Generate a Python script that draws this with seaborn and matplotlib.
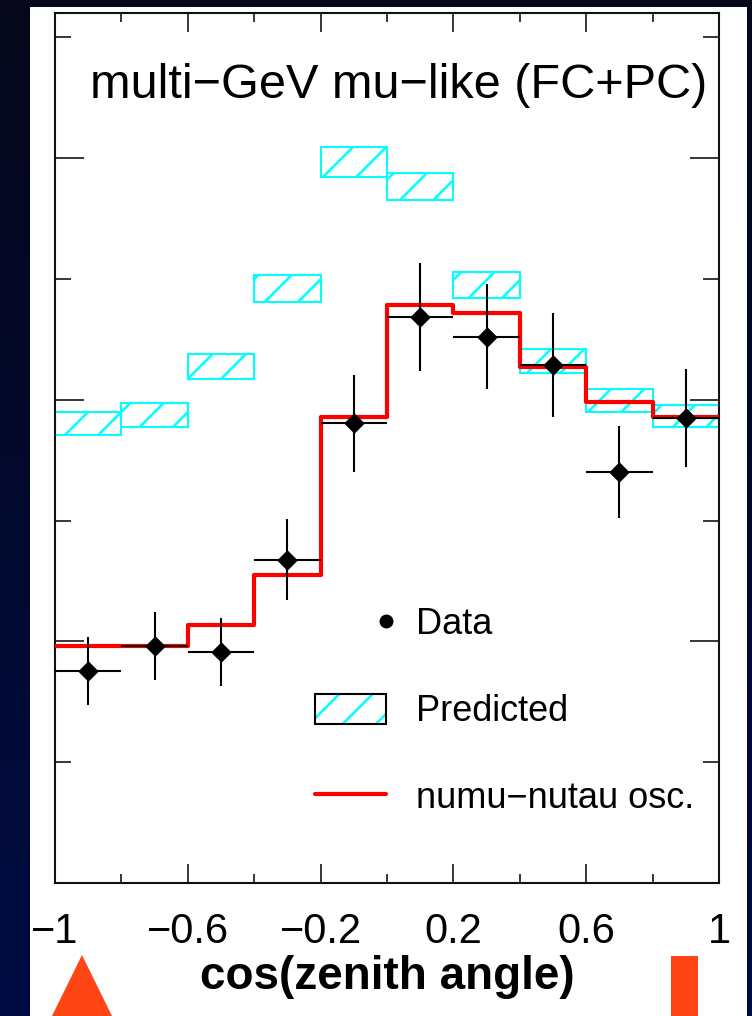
import numpy as np
import pandas as pd
import matplotlib.pyplot as plt
import seaborn as sns
from matplotlib.patches import Rectangle, Polygon, Patch
from matplotlib.lines import Line2D
from matplotlib.legend_handler import HandlerLine2D
from matplotlib.colors import LinearSegmentedColormap

# zenith angle binning
bin_edges = [-1.0, -0.8, -0.6, -0.4, -0.2, 0.0, 0.2, 0.4, 0.6, 0.8, 1.0]
bin_centers = [-0.9, -0.7, -0.5, -0.3, -0.1, 0.1, 0.3, 0.5, 0.7, 0.9]
x_ticks = [-1.0, -0.6, -0.2, 0.2, 0.6, 1.0]
x_ticklabels = ["\u22121", "\u22120.6", "\u22120.2", "0.2", "0.6", "1"]

# predicted (no oscillation) band, lower / upper edge of each box
pred_low = [74.1, 75.5, 83.4, 96.1, 116.8, 113.0, 96.8, 84.4, 77.9, 75.5]
pred_high = [77.9, 79.4, 87.5, 100.6, 121.8, 117.5, 101.1, 88.4, 81.7, 79.1]

# numu -> nutau oscillation expectation
osc = [39.2, 39.2, 42.7, 51.0, 77.1, 95.6, 94.3, 85.4, 79.6, 77.1]

# observed events
data_counts = [35.1, 39.2, 38.2, 53.5, 76.1, 93.7, 90.4, 85.7, 68.0, 76.9]
data_err = [5.6, 5.6, 5.6, 6.7, 8.0, 9.0, 8.7, 8.6, 7.6, 8.1]

sns.set_style("ticks")
plt.rcParams['font.family'] = ['Liberation Sans', 'DejaVu Sans']
plt.rcParams['hatch.linewidth'] = 1.8
plt.rcParams['text.color'] = 'black'
plt.rcParams['axes.labelcolor'] = 'black'
plt.rcParams['xtick.color'] = 'black'
plt.rcParams['ytick.color'] = 'black'

df = pd.DataFrame({"cos_zenith": bin_centers, "events": data_counts})

fig = plt.figure(figsize=(7.52, 10.16), dpi=100)
fig.patch.set_facecolor('#05061a')

# slide background: dark gradient, white panel, orange decorations
bg = fig.add_axes([0, 0, 1, 1], zorder=-10)
bg_cmap = LinearSegmentedColormap.from_list("slide", ['#06071a', '#000b42'])
bg.imshow(np.linspace(0, 1, 256).reshape(-1, 1), cmap=bg_cmap, aspect='auto',
          extent=[0, 1, 0, 1], origin='upper')
bg.add_patch(Rectangle((30 / 752, 0), 717 / 752, 1009 / 1016,
                       facecolor='white', edgecolor='none'))
bg.add_patch(Polygon([(52 / 752, 0), (112 / 752, 0), (82 / 752, 61 / 1016)],
                     closed=True, facecolor='#ff4516', edgecolor='none'))
bg.add_patch(Rectangle((671 / 752, 0), 27 / 752, 60 / 1016,
                       facecolor='#ff4516', edgecolor='none'))
bg.set_xlim(0, 1)
bg.set_ylim(0, 1)
bg.axis('off')

ax = fig.add_axes([55 / 752, 133 / 1016, 664 / 752, 870 / 1016])
ax.set_facecolor('white')

# predicted boxes
ax.bar(bin_centers, np.subtract(pred_high, pred_low), bottom=pred_low, width=0.2,
       facecolor='none', edgecolor='#00ffff', hatch='/', linewidth=1.5, zorder=2)

# oscillation histogram
sns.lineplot(x=bin_edges, y=osc + [osc[-1]], drawstyle='steps-post', color='red',
             linewidth=3, ax=ax, zorder=3)

# data with error bars
ax.errorbar(bin_centers, data_counts, xerr=0.1, yerr=data_err, fmt='none',
            ecolor='black', elinewidth=1.5, capsize=0, zorder=4)
sns.scatterplot(data=df, x='cos_zenith', y='events', marker='D', s=110,
                color='black', edgecolor='black', linewidth=0, ax=ax, zorder=5)

ax.set_xlim(-1, 1)
ax.set_ylim(0, 144)

ax.set_xticks(x_ticks)
ax.set_xticklabels(x_ticklabels)
ax.set_xticks([-0.8, -0.4, 0.0, 0.4, 0.8], minor=True)
ax.set_yticks([40, 80, 120])
ax.set_yticks([20, 60, 100, 140], minor=True)

ax.tick_params(axis='x', which='major', direction='in', length=14, width=1.1,
               top=True, bottom=True, labelsize=30, pad=21, labelcolor='black')
ax.tick_params(axis='x', which='minor', direction='in', length=6.5, width=1.1,
               top=True, bottom=True)
ax.tick_params(axis='y', which='major', direction='in', length=21, width=1.1,
               left=True, right=True, labelleft=False)
ax.tick_params(axis='y', which='minor', direction='in', length=11.5, width=1.1,
               left=True, right=True)
for sp in ax.spines.values():
    sp.set_linewidth(1.5)
    sp.set_color('#111111')

ax.set_ylabel('')
ax.set_xlabel('cos(zenith angle)', fontsize=33, fontweight='bold', labelpad=2,
              color='black')

ax.text(0.982, 0.902, 'multi\u2212GeV mu\u2212like (FC+PC)', transform=ax.transAxes,
        ha='right', va='baseline', fontsize=35, color='black')

# legend
data_h = Line2D([], [], marker='o', color='black', linestyle='none', markersize=9)
pred_h = (Patch(facecolor='white', edgecolor='#00ffff', hatch='/', linewidth=0),
          Patch(facecolor='none', edgecolor='black', linewidth=1.5))
osc_h = Line2D([], [], color='red', linewidth=3)


def right_marker(legline, orig):
    legline.update_from(orig)
    legline.set_markevery([1])


ax.legend([data_h, pred_h, osc_h], ['Data', 'Predicted', 'numu\u2212nutau osc.'],
          loc='upper left', bbox_to_anchor=(0.392, 0.3174), frameon=False,
          fontsize=26, handlelength=1.95, handleheight=0.9, handletextpad=0.85,
          labelspacing=1.42, borderpad=0, borderaxespad=0, labelcolor='black',
          handler_map={data_h: HandlerLine2D(numpoints=2, marker_pad=0,
                                             update_func=right_marker)})

fig.savefig('out.png', dpi=100, facecolor=fig.get_facecolor())
